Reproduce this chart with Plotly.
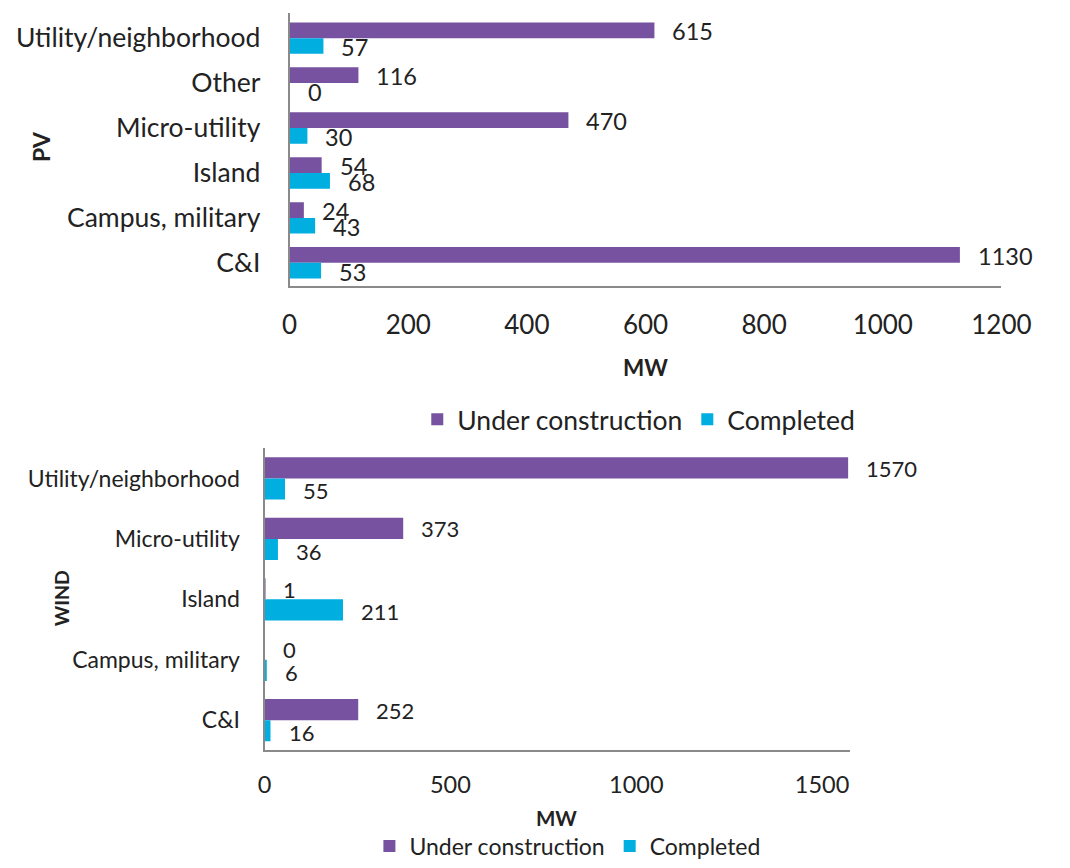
import plotly.graph_objects as go

# PV projects (MW), listed top to bottom
pv_categories = ["Utility/neighborhood", "Other", "Micro-utility", "Island",
                 "Campus, military", "C&I"]
pv_under_construction = [615, 116, 470, 54, 24, 1130]
pv_completed = [57, 0, 30, 68, 43, 53]
pv_ticks = [0, 200, 400, 600, 800, 1000, 1200]

# Wind projects (MW), listed top to bottom
wind_categories = ["Utility/neighborhood", "Micro-utility", "Island",
                   "Campus, military", "C&I"]
wind_under_construction = [1570, 373, 1, 0, 252]
wind_completed = [55, 36, 211, 6, 16]
wind_ticks = [0, 500, 1000, 1500]

series_names = ["Under construction", "Completed"]
PURPLE = "#7652A0"
CYAN = "#00AEE0"
TEXT = "#222222"
AXIS = "#8A8A8A"
FONT = "Lato, sans-serif"

W, H = 1070, 868
BAR_W = 0.35


def px(x):
    return x / W


def py(y):
    return (H - y) / H


fig = go.Figure()

panels = [
    dict(cats=pv_categories, vals=[pv_under_construction, pv_completed],
         xa="x", ya="y", legend="legend"),
    dict(cats=wind_categories, vals=[wind_under_construction, wind_completed],
         xa="x2", ya="y2", legend="legend2"),
]

colors = [PURPLE, CYAN]
offsets = [-BAR_W, 0.0]

for p in panels:
    for name, vals, color, off in zip(series_names, p["vals"], colors, offsets):
        fig.add_trace(go.Bar(
            name=name, y=p["cats"], x=vals, orientation="h",
            width=BAR_W, offset=off, marker=dict(color=color, line=dict(width=0)),
            xaxis=p["xa"], yaxis=p["ya"], legend=p["legend"],
            hoverinfo="skip",
        ))

# value labels just past the end of each bar
label_cfg = [
    (pv_categories, [pv_under_construction, pv_completed], "x", "y", 23.5, (7, -9)),
    (wind_categories, [wind_under_construction, wind_completed], "x2", "y2", 22, (10, -12.5)),
]
for cats, series, xa, ya, fs, shifts in label_cfg:
    for vals, ys in zip(series, shifts):
        for c, v in zip(cats, vals):
            fig.add_annotation(
                x=v, y=c, xref=xa, yref=ya, text=str(v), showarrow=False,
                xanchor="left", yanchor="middle", xshift=16, yshift=ys,
                font=dict(family=FONT, size=fs, color=TEXT),
            )

# axis titles
titles = [
    ("PV", 34, 148, -90, 23),
    ("MW", 661, 372, 0, 22.5),
    ("WIND", 55, 606, -90, 19.5),
    ("MW", 569, 828, 0, 20.5),
]
for txt, x, y, ang, fs in titles:
    fig.add_annotation(
        x=px(x), y=py(y), xref="paper", yref="paper", text=f"<b>{txt}</b>",
        showarrow=False, textangle=ang, xanchor="center", yanchor="middle",
        font=dict(family=FONT, size=fs, color=TEXT),
    )

common_x = dict(showgrid=False, zeroline=False, showline=True, linecolor=AXIS,
                linewidth=2, ticks="", tickmode="array")
common_y = dict(showgrid=False, zeroline=False, showline=True, linecolor=AXIS,
                linewidth=2, ticks="", type="category", autorange="reversed")

fig.update_layout(
    width=W, height=H,
    margin=dict(l=0, r=0, t=0, b=0),
    paper_bgcolor="white", plot_bgcolor="white",
    barmode="overlay",
    showlegend=True,
    xaxis=dict(**common_x, domain=[px(292), px(1030)], range=[0, 1200],
               tickvals=pv_ticks, anchor="y",
               tickfont=dict(family=FONT, size=26, color=TEXT), ticklabelstandoff=15),
    yaxis=dict(**common_y, domain=[py(289.5), py(13.3)], anchor="x",
               categoryorder="array", categoryarray=pv_categories,
               tickfont=dict(family=FONT, size=26.5, color=TEXT), ticklabelstandoff=22),
    xaxis2=dict(**common_x, domain=[px(266), px(873)], range=[0, 1575],
                tickvals=wind_ticks, anchor="y2",
                tickfont=dict(family=FONT, size=23.5, color=TEXT), ticklabelstandoff=12),
    yaxis2=dict(**common_y, domain=[py(760), py(454)], anchor="x2",
                categoryorder="array", categoryarray=wind_categories,
                tickfont=dict(family=FONT, size=23, color=TEXT), ticklabelstandoff=18),
    legend=dict(orientation="h", x=px(654), y=py(425), xanchor="center",
                yanchor="middle", font=dict(family=FONT, size=26.5, color=TEXT),
                bgcolor="rgba(0,0,0,0)", traceorder="normal", itemclick=False),
    legend2=dict(orientation="h", x=px(580), y=py(857), xanchor="center",
                 yanchor="middle", font=dict(family=FONT, size=23, color=TEXT),
                 bgcolor="rgba(0,0,0,0)", traceorder="normal", itemclick=False),
)

fig.write_html("out.html")
